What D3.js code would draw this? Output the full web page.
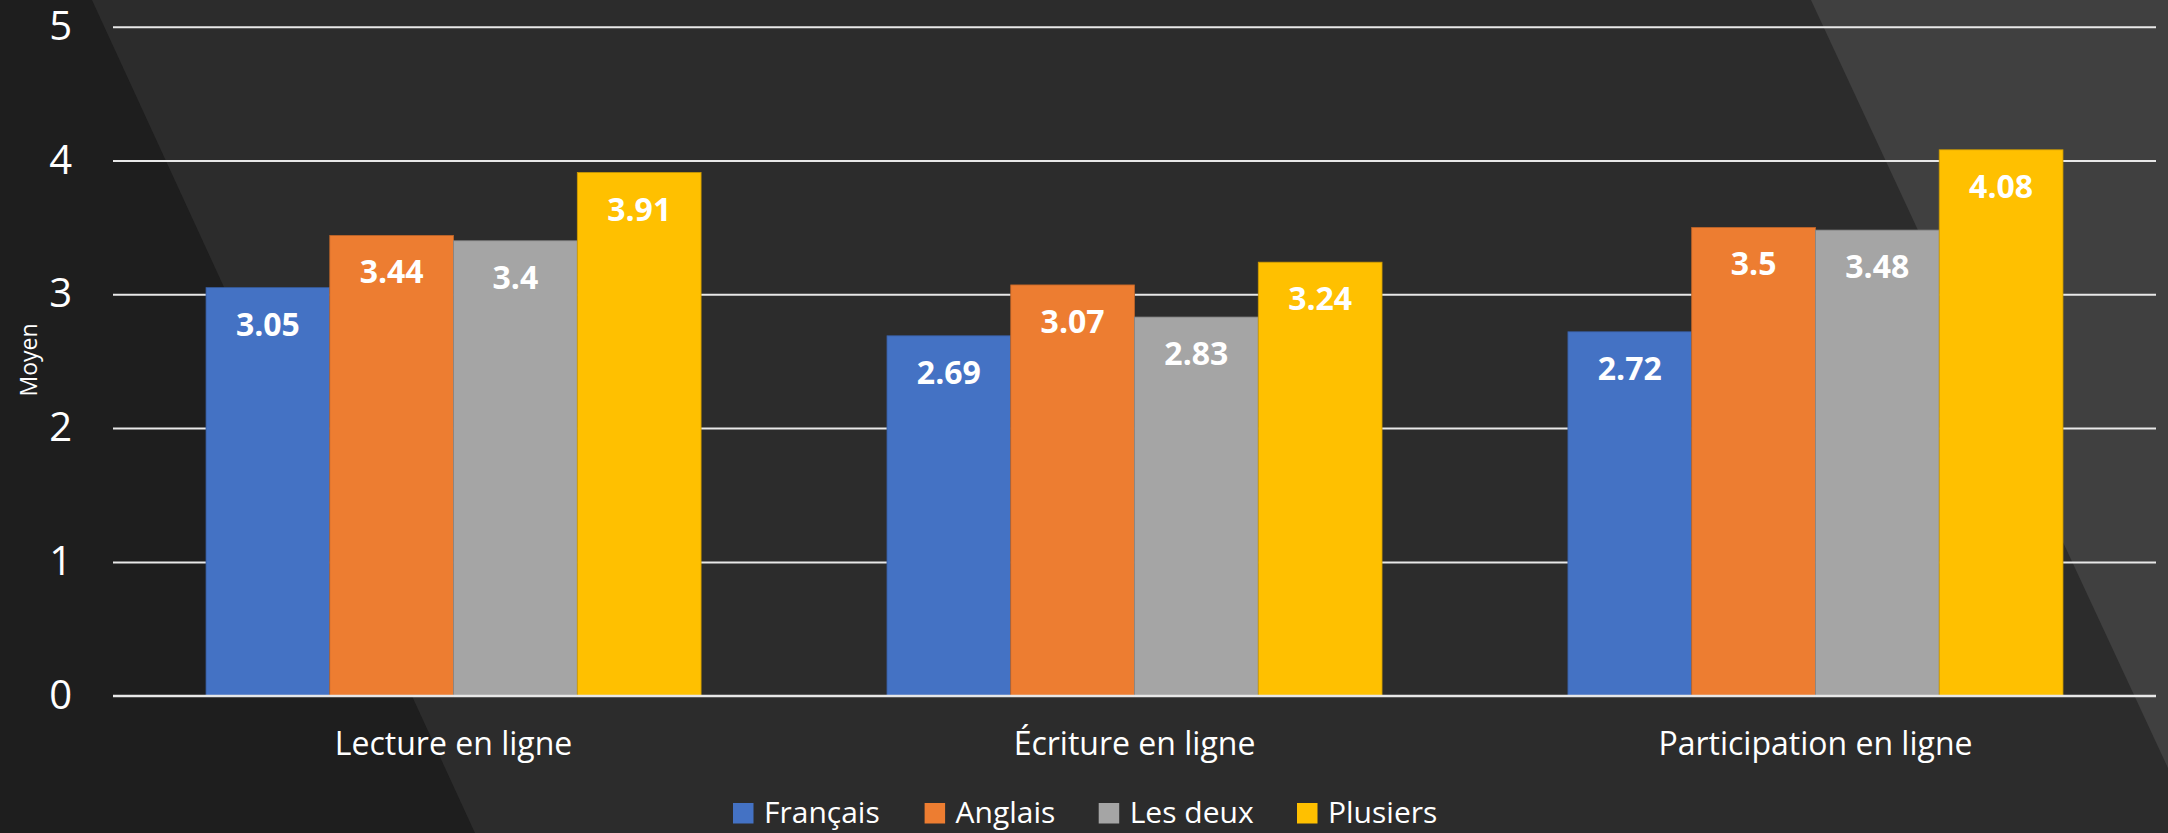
<!DOCTYPE html>
<html>
<head>
<meta charset="utf-8">
<script src="https://cdn.jsdelivr.net/npm/d3@7"></script>
<style>
  html, body { margin: 0; padding: 0; background: #2c2c2c; }
  svg { display: block; }
  text { font-family: "Open Sans", "Noto Sans", sans-serif; }
</style>
</head>
<body>
<svg id="chart" width="2168" height="833"></svg>
<script>
// ---- data ----
const categories = ["Lecture en ligne", "Écriture en ligne", "Participation en ligne"];
const seriesNames = ["Français", "Anglais", "Les deux", "Plusiers"];
const francais = [3.05, 2.69, 2.72];
const anglais  = [3.44, 3.07, 3.50];
const lesDeux  = [3.40, 2.83, 3.48];
const plusiers = [3.91, 3.24, 4.08];
const seriesValues = [francais, anglais, lesDeux, plusiers];
const yTicks = [0, 1, 2, 3, 4, 5];
const yTitle = "Moyen";
const colors = ["#4472C4", "#ED7D31", "#A5A5A5", "#FFC000"];

// ---- layout ----
const W = 2168, H = 833;
const plotLeft = 113, plotRight = 2156, plotTop = 26.7, plotBottom = 695.7;

const svg = d3.select("#chart");

// background shapes
svg.append("rect").attr("width", W).attr("height", H).attr("fill", "#2c2c2c");
svg.append("polygon")
  .attr("points", [[0,0],[92,0],[475,833],[0,833]].map(p => p.join(",")).join(" "))
  .attr("fill", "#1e1e1e");
svg.append("polygon")
  .attr("points", [[1811,0],[W,0],[W,768]].map(p => p.join(",")).join(" "))
  .attr("fill", "#404040");

const y = d3.scaleLinear().domain([0, 5]).range([plotBottom, plotTop]);
const x0 = d3.scaleBand().domain(categories).range([plotLeft, plotRight])
  .paddingInner(0.273).paddingOuter(0.1366);
const x1 = d3.scaleBand().domain(seriesNames).range([0, x0.bandwidth()]).padding(0);

// gridlines via axis
const grid = svg.append("g")
  .attr("transform", `translate(${plotLeft},0)`)
  .call(d3.axisLeft(y).tickValues(yTicks).tickSize(-(plotRight - plotLeft)).tickFormat(""));
grid.select(".domain").remove();
grid.selectAll(".tick line").attr("stroke", "#e8e8e8").attr("stroke-width", 2);

// y tick labels
const yAxis = svg.append("g")
  .attr("transform", `translate(72,0)`)
  .call(d3.axisLeft(y).tickValues(yTicks).tickSize(0).tickPadding(0).tickFormat(d3.format("d")));
yAxis.select(".domain").remove();
yAxis.selectAll(".tick text")
  .attr("fill", "#ffffff")
  .attr("font-size", 40)
  .attr("dy", "12.5px")
  .attr("text-anchor", "end");

// y title
svg.append("text")
  .attr("transform", `translate(37,360) rotate(-90)`)
  .attr("text-anchor", "middle")
  .attr("fill", "#ffffff")
  .attr("font-size", 23)
  .text(yTitle);

// bars
const groups = svg.append("g").selectAll("g")
  .data(categories)
  .join("g")
  .attr("transform", d => `translate(${x0(d)},0)`);

groups.selectAll("rect")
  .data((c, ci) => seriesNames.map((s, si) => ({ s, si, v: seriesValues[si][ci] })))
  .join("rect")
  .attr("x", d => x1(d.s))
  .attr("y", d => y(d.v))
  .attr("width", x1.bandwidth())
  .attr("height", d => y(0) - y(d.v))
  .attr("fill", d => colors[d.si])
  .attr("stroke", d => d3.color(colors[d.si]).darker(0.6))
  .attr("stroke-width", 0.8);

groups.selectAll("text.lbl")
  .data((c, ci) => seriesNames.map((s, si) => ({ s, si, v: seriesValues[si][ci] })))
  .join("text")
  .attr("class", "lbl")
  .attr("x", d => x1(d.s) + x1.bandwidth() / 2)
  .attr("y", d => y(d.v) + 48)
  .attr("text-anchor", "middle")
  .attr("fill", "#ffffff")
  .attr("font-size", 32)
  .attr("font-weight", 700)
  .text(d => String(d.v));

// baseline (x axis)
svg.append("line")
  .attr("x1", plotLeft).attr("x2", plotRight)
  .attr("y1", y(0)).attr("y2", y(0))
  .attr("stroke", "#e8e8e8").attr("stroke-width", 2);

// category labels
const xAxis = svg.append("g")
  .attr("transform", `translate(0,${plotBottom})`)
  .call(d3.axisBottom(x0).tickSize(0).tickPadding(0));
xAxis.select(".domain").remove();
xAxis.selectAll(".tick text")
  .attr("fill", "#ffffff")
  .attr("font-size", 32)
  .attr("dy", null)
  .attr("y", 59);

// legend
const legendItems = [
  { name: seriesNames[0], x: 733 },
  { name: seriesNames[1], x: 924.6 },
  { name: seriesNames[2], x: 1098.7 },
  { name: seriesNames[3], x: 1297 }
];
const legend = svg.append("g");
const li = legend.selectAll("g").data(legendItems).join("g")
  .attr("transform", d => `translate(${d.x},0)`);
li.append("rect")
  .attr("x", 0).attr("y", 803).attr("width", 20.5).attr("height", 20.5)
  .attr("fill", (d, i) => colors[i]);
li.append("text")
  .attr("x", 31).attr("y", 823)
  .attr("fill", "#ffffff")
  .attr("font-size", 30)
  .text(d => d.name);
</script>
</body>
</html>
